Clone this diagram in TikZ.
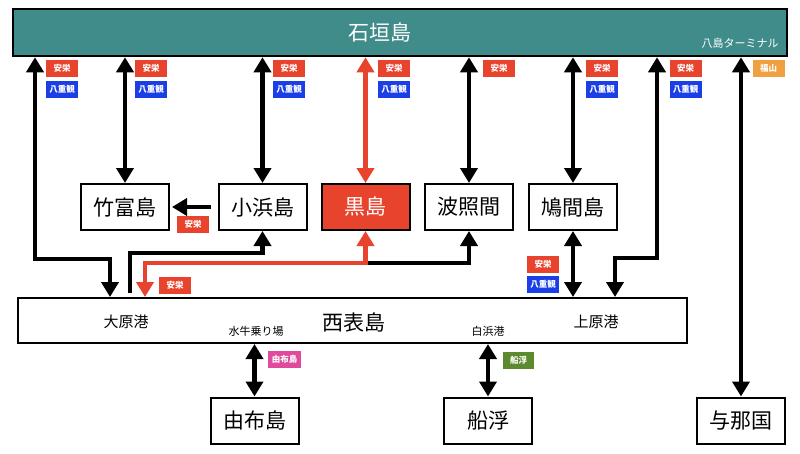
\documentclass[tikz,border=0pt]{standalone}
\usepackage{fontspec}
\setmainfont{Noto Sans CJK JP}
\usetikzlibrary{arrows.meta,calc}
\definecolor{tealbar}{HTML}{3F8C8A}
\definecolor{redA}{HTML}{E8432D}
\definecolor{blueA}{HTML}{1B3FE6}
\definecolor{orangeA}{HTML}{F0A040}
\definecolor{pinkA}{HTML}{E04A9C}
\definecolor{greenA}{HTML}{5C8A2E}
\begin{document}
\begin{tikzpicture}[x=1pt,y=-1pt,
  box/.style={draw=black,line width=2pt,minimum width=88pt,minimum height=46pt,inner sep=0pt,font=\fontsize{21}{21}\selectfont},
  badge/.style={text=white,minimum width=32pt,minimum height=17pt,inner sep=0pt,font=\fontsize{8.5}{8.5}\selectfont\bfseries},
  anei/.style={badge,fill=redA},
  yaeyama/.style={badge,fill=blueA},
  conn/.style={line width=4.5pt},
  tip/.style={-{Triangle[width=17pt,length=15pt]}},
  dtip/.style={{Triangle[width=17pt,length=15pt]}-{Triangle[width=17pt,length=15pt]}},
]
\useasboundingbox (0,0) rectangle (800,453);

% Ishigaki bar
\node[draw=black,line width=2.5pt,fill=tealbar,minimum width=774pt,minimum height=47pt,inner sep=0pt] (top) at (400,32.5) {};
\node[text=white,font=\fontsize{21}{21}\selectfont] (tname) at (380,32) {石垣島};
\node[text=white,font=\fontsize{11}{11}\selectfont] (tterm) at (740,43) {八島ターミナル};

% islands
\node[box] (taketomi) at (125,207) {竹富島};
\node[box] (kohama) at (262.5,207) {小浜島};
\node[box,fill=redA,text=white] (kuro) at (365.5,207) {黒島};
\node[box] (hateruma) at (469,207) {波照間};
\node[box] (hatoma) at (573,207) {鳩間島};

% Iriomote
\node[draw=black,line width=2pt,minimum width=669pt,minimum height=45pt,inner sep=0pt] (iri) at (352.5,320.5) {};
\node[font=\fontsize{15}{15}\selectfont] (ohara) at (126,322) {大原港};
\node[font=\fontsize{11}{11}\selectfont] (suigyu) at (256,331) {水牛乗り場};
\node[font=\fontsize{21}{21}\selectfont] (iriname) at (354,322) {西表島};
\node[font=\fontsize{11}{11}\selectfont] (shira) at (488,331) {白浜港};
\node[font=\fontsize{15}{15}\selectfont] (uehara) at (596,322) {上原港};

% bottom islands
\node[box] (yufu) at (254.5,420.5) {由布島};
\node[box] (funauki) at (488,420.5) {船浮};
\node[box] (yona) at (741,420.5) {与那国};

% helper coordinates
\coordinate (lA) at (35,259);
\coordinate (lB) at (110,259);
\coordinate (oA) at (130,253);
\coordinate (rB) at (145,263);
\coordinate (uA) at (657,258);
\coordinate (uB) at (615,258);

% connectors from Ishigaki
\draw[conn,dtip] (top.south -| lA) -- (lA) -- (lB) -- (lB |- iri.north);
\draw[conn,dtip] (top.south -| taketomi) -- (taketomi.north);
\draw[conn,dtip] (top.south -| kohama) -- (kohama.north);
\draw[conn,dtip,draw=redA] (top.south -| kuro) -- (kuro.north);
\draw[conn,dtip] (top.south -| hateruma) -- (hateruma.north);
\draw[conn,dtip] (top.south -| hatoma) -- (hatoma.north);
\draw[conn,dtip] (top.south -| uA) -- (uA) -- (uB) -- (uB |- iri.north);
\draw[conn,dtip] (top.south -| yona) -- (yona.north);

% between islands
\draw[conn,tip] ([xshift=-7pt]kohama.west) -- ([xshift=2pt]taketomi.east);
\draw[conn,tip] ([yshift=4pt]iri.north -| oA) -- (oA) -| (kohama.south);
\draw[conn,tip] (kuro.south |- rB) -| (hateruma.south);
\draw[conn,dtip,draw=redA] (kuro.south) |- (rB) -- (rB |- iri.north);
\draw[conn,dtip] (hatoma.south) -- (hatoma.south |- iri.north);
\draw[conn,dtip] (iri.south -| yufu) -- (yufu.north);
\draw[conn,dtip] (iri.south -| funauki) -- (funauki.north);

% badges at top
\node[anei] (b1a) at (62,68) {安栄};
\node[yaeyama] (b1y) at (62,89.5) {八重観};
\node[anei] (b2a) at (151,68) {安栄};
\node[yaeyama] (b2y) at (151,89.5) {八重観};
\node[anei] (b3a) at (289,68) {安栄};
\node[yaeyama] (b3y) at (289,89.5) {八重観};
\node[anei] (b4a) at (394,68) {安栄};
\node[yaeyama] (b4y) at (394,89.5) {八重観};
\node[anei] (b5a) at (499,68) {安栄};
\node[anei] (b6a) at (602,68) {安栄};
\node[yaeyama] (b6y) at (602,89.5) {八重観};
\node[anei] (b7a) at (685.5,68) {安栄};
\node[yaeyama] (b7y) at (685.5,89.5) {八重観};
\node[badge,fill=orangeA] (b8f) at (768.5,68) {福山};

% other badges
\node[anei] (b9a) at (193,224.5) {安栄};
\node[anei] (b10a) at (175,285) {安栄};
\node[anei] (b11a) at (543,264) {安栄};
\node[yaeyama] (b11y) at (543,284.5) {八重観};
\node[badge,fill=pinkA,minimum width=33pt] (b12) at (284.5,359.5) {由布島};
\node[badge,fill=greenA,minimum width=31pt] (b13) at (518.5,360) {船浮};
\end{tikzpicture}
\end{document}
